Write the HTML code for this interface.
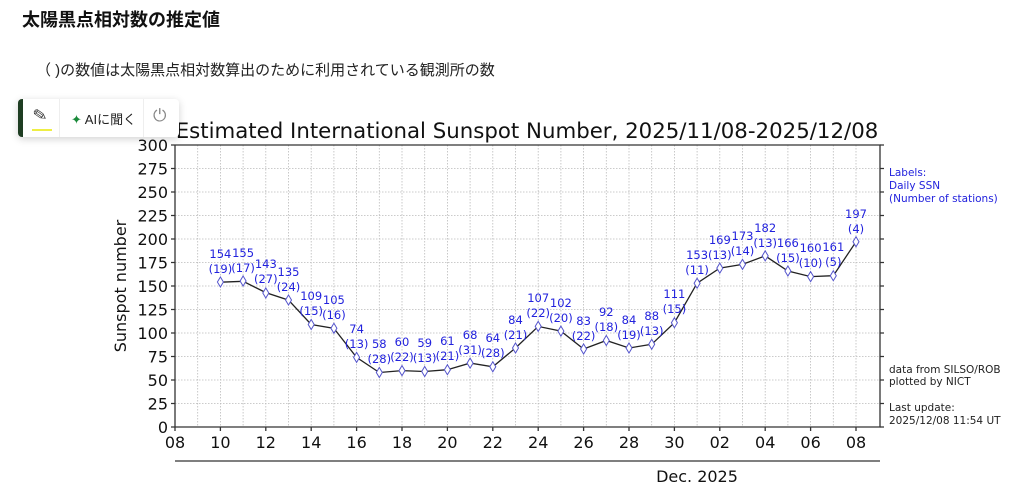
<!DOCTYPE html>
<html><head><meta charset="utf-8"><style>
body{margin:0;width:1024px;height:492px;background:#fff;overflow:hidden;font-family:"Liberation Sans","Noto Sans CJK JP",sans-serif;}
h1{position:absolute;left:22px;top:6px;margin:0;font-size:18px;font-weight:bold;color:#111;}
.sub{position:absolute;left:36px;top:59px;font-size:15px;color:#222;}
.tb{position:absolute;left:18px;top:99px;width:156px;height:38px;background:#fff;box-shadow:0 2px 8px rgba(0,0,0,.18);border-radius:4px;border-left:5px solid #1e3d22;font-size:13px;}
svg{position:absolute;left:0;top:0;}
</style></head><body>
<h1>太陽黒点相対数の推定値</h1>
<div class="sub">（ )の数値は太陽黒点相対数算出のために利用されている観測所の数</div>
<svg width="1024" height="492" font-family="DejaVu Sans, Liberation Sans, sans-serif">
<g stroke="#bbb" stroke-width="0.8" stroke-dasharray="1.5,1.5">
<path d="M197.7 145V427M220.4 145V427M243.1 145V427M265.8 145V427M288.5 145V427M311.2 145V427M333.9 145V427M356.6 145V427M379.3 145V427M402 145V427M424.7 145V427M447.4 145V427M470.1 145V427M492.8 145V427M515.5 145V427M538.2 145V427M560.9 145V427M583.6 145V427M606.3 145V427M629 145V427M651.7 145V427M674.4 145V427M697.1 145V427M719.8 145V427M742.5 145V427M765.2 145V427M787.9 145V427M810.6 145V427M833.3 145V427M856 145V427"/>
<path d="M175 403.5H880M175 380H880M175 356.5H880M175 333H880M175 309.5H880M175 286H880M175 262.5H880M175 239H880M175 215.5H880M175 192H880M175 168.5H880M175 145H880"/>
</g>
<g stroke="#333" stroke-width="1.3" fill="none">
<path d="M175 145V427H880V145H175"/>
<path d="M175 461H880"/>
<path d="M171 427H175M171 403.5H175M171 380H175M171 356.5H175M171 333H175M171 309.5H175M171 286H175M171 262.5H175M171 239H175M171 215.5H175M171 192H175M171 168.5H175M171 145H175"/>
<path d="M880 427H884M880 403.5H884M880 380H884M880 356.5H884M880 333H884M880 309.5H884M880 286H884M880 262.5H884M880 239H884M880 215.5H884M880 192H884M880 168.5H884M880 145H884"/>
<path d="M175 427v4M220.4 427v4M265.8 427v4M311.2 427v4M356.6 427v4M402 427v4M447.4 427v4M492.8 427v4M538.2 427v4M583.6 427v4M629 427v4M674.4 427v4M719.8 427v4M765.2 427v4M810.6 427v4M856 427v4"/>
</g>
<g font-size="16" fill="#111" text-anchor="end">
<text x="168" y="433">0</text><text x="168" y="409.5">25</text><text x="168" y="386">50</text><text x="168" y="362.5">75</text><text x="168" y="339">100</text><text x="168" y="315.5">125</text><text x="168" y="292">150</text><text x="168" y="268.5">175</text><text x="168" y="245">200</text><text x="168" y="221.5">225</text><text x="168" y="198">250</text><text x="168" y="174.5">275</text><text x="168" y="151">300</text>
</g>
<g font-size="16" fill="#111" text-anchor="middle">
<text x="175" y="448">08</text><text x="220.4" y="448">10</text><text x="265.8" y="448">12</text><text x="311.2" y="448">14</text><text x="356.6" y="448">16</text><text x="402" y="448">18</text><text x="447.4" y="448">20</text><text x="492.8" y="448">22</text><text x="538.2" y="448">24</text><text x="583.6" y="448">26</text><text x="629" y="448">28</text><text x="674.4" y="448">30</text><text x="719.8" y="448">02</text><text x="765.2" y="448">04</text><text x="810.6" y="448">06</text><text x="856" y="448">08</text>
<text x="697" y="482">Dec. 2025</text>
<text x="527" y="138" font-size="21.3">Estimated International Sunspot Number, 2025/11/08-2025/12/08</text>
<text transform="translate(126,286) rotate(-90)" font-size="16">Sunspot number</text>
</g>
<polyline fill="none" stroke="#222" stroke-width="1.3" points="220.4,282.2 243.1,281.3 265.8,292.6 288.5,300.1 311.2,324.5 333.9,328.3 356.6,357.4 379.3,372.5 402,370.6 424.7,371.5 447.4,369.7 470.1,363.1 492.8,366.8 515.5,348 538.2,326.4 560.9,331.1 583.6,349 606.3,340.5 629,348 651.7,344.3 674.4,322.7 697.1,283.2 719.8,268.1 742.5,264.4 765.2,255.9 787.9,271 810.6,276.6 833.3,275.7 856,241.8"/>
<g fill="#fff" stroke="#55c" stroke-width="1">
<path d="M220.4 277l3 5-3 5-3-5zM243.1 276l3 5-3 5-3-5zM265.8 288l3 5-3 5-3-5zM288.5 295l3 5-3 5-3-5zM311.2 319.5l3 5-3 5-3-5zM333.9 323.3l3 5-3 5-3-5zM356.6 352.4l3 5-3 5-3-5zM379.3 367.5l3 5-3 5-3-5zM402 365.6l3 5-3 5-3-5zM424.7 366.5l3 5-3 5-3-5zM447.4 364.7l3 5-3 5-3-5zM470.1 358.1l3 5-3 5-3-5zM492.8 361.8l3 5-3 5-3-5zM515.5 343l3 5-3 5-3-5zM538.2 321.4l3 5-3 5-3-5zM560.9 326.1l3 5-3 5-3-5zM583.6 344l3 5-3 5-3-5zM606.3 335.5l3 5-3 5-3-5zM629 343l3 5-3 5-3-5zM651.7 339.3l3 5-3 5-3-5zM674.4 317.7l3 5-3 5-3-5zM697.1 278.2l3 5-3 5-3-5zM719.8 263.1l3 5-3 5-3-5zM742.5 259.4l3 5-3 5-3-5zM765.2 250.9l3 5-3 5-3-5zM787.9 266l3 5-3 5-3-5zM810.6 271.6l3 5-3 5-3-5zM833.3 270.7l3 5-3 5-3-5zM856 236.8l3 5-3 5-3-5z"/>
</g>
<g font-size="11.5" fill="#2222dd" text-anchor="middle">
<text x="220.4" y="258">154</text><text x="220.4" y="273">(19)</text>
<text x="243.1" y="257">155</text><text x="243.1" y="272">(17)</text>
<text x="265.8" y="268">143</text><text x="265.8" y="283">(27)</text>
<text x="288.5" y="276">135</text><text x="288.5" y="291">(24)</text>
<text x="311.2" y="300">109</text><text x="311.2" y="315">(15)</text>
<text x="333.9" y="304">105</text><text x="333.9" y="319">(16)</text>
<text x="356.6" y="333">74</text><text x="356.6" y="348">(13)</text>
<text x="379.3" y="348">58</text><text x="379.3" y="363">(28)</text>
<text x="402" y="346">60</text><text x="402" y="361">(22)</text>
<text x="424.7" y="347">59</text><text x="424.7" y="362">(13)</text>
<text x="447.4" y="345">61</text><text x="447.4" y="360">(21)</text>
<text x="470.1" y="339">68</text><text x="470.1" y="354">(31)</text>
<text x="492.8" y="342">64</text><text x="492.8" y="357">(28)</text>
<text x="515.5" y="324">84</text><text x="515.5" y="339">(21)</text>
<text x="538.2" y="302">107</text><text x="538.2" y="317">(22)</text>
<text x="560.9" y="307">102</text><text x="560.9" y="322">(20)</text>
<text x="583.6" y="325">83</text><text x="583.6" y="340">(22)</text>
<text x="606.3" y="316">92</text><text x="606.3" y="331">(18)</text>
<text x="629" y="324">84</text><text x="629" y="339">(19)</text>
<text x="651.7" y="320">88</text><text x="651.7" y="335">(13)</text>
<text x="674.4" y="298">111</text><text x="674.4" y="313">(15)</text>
<text x="697.1" y="259">153</text><text x="697.1" y="274">(11)</text>
<text x="719.8" y="244">169</text><text x="719.8" y="259">(13)</text>
<text x="742.5" y="240">173</text><text x="742.5" y="255">(14)</text>
<text x="765.2" y="232">182</text><text x="765.2" y="247">(13)</text>
<text x="787.9" y="247">166</text><text x="787.9" y="262">(15)</text>
<text x="810.6" y="252">160</text><text x="810.6" y="267">(10)</text>
<text x="833.3" y="251">161</text><text x="833.3" y="266">(5)</text>
<text x="856" y="218">197</text><text x="856" y="233">(4)</text>
</g>
<g font-size="10.5">
<text x="889" y="176" fill="#2222dd">Labels:</text>
<text x="889" y="189" fill="#2222dd">Daily SSN</text>
<text x="889" y="202" fill="#2222dd">(Number of stations)</text>
<text x="889" y="373" fill="#222">data from SILSO/ROB</text>
<text x="889" y="385" fill="#222">plotted by NICT</text>
<text x="889" y="411" fill="#222">Last update:</text>
<text x="889" y="424" fill="#222">2025/12/08 11:54 UT</text>
</g>
</svg>
<div class="tb">
<div style="position:absolute;left:36px;top:0;width:1px;height:38px;background:#eee"></div>
<div style="position:absolute;left:120px;top:0;width:1px;height:38px;background:#eee"></div>
<div style="position:absolute;left:10px;top:7px;font-size:17px;color:#333;transform:rotate(-10deg)">✎</div>
<div style="position:absolute;left:9px;top:30px;width:20px;height:2px;background:#ee4"></div>
<div style="position:absolute;left:48px;top:10px;color:#222"><span style="color:#1a8a3a">✦</span> AIに聞く</div>
<div style="position:absolute;left:130px;top:7px;font-size:17px;color:#888">⏻</div>
</div>
</body></html>
